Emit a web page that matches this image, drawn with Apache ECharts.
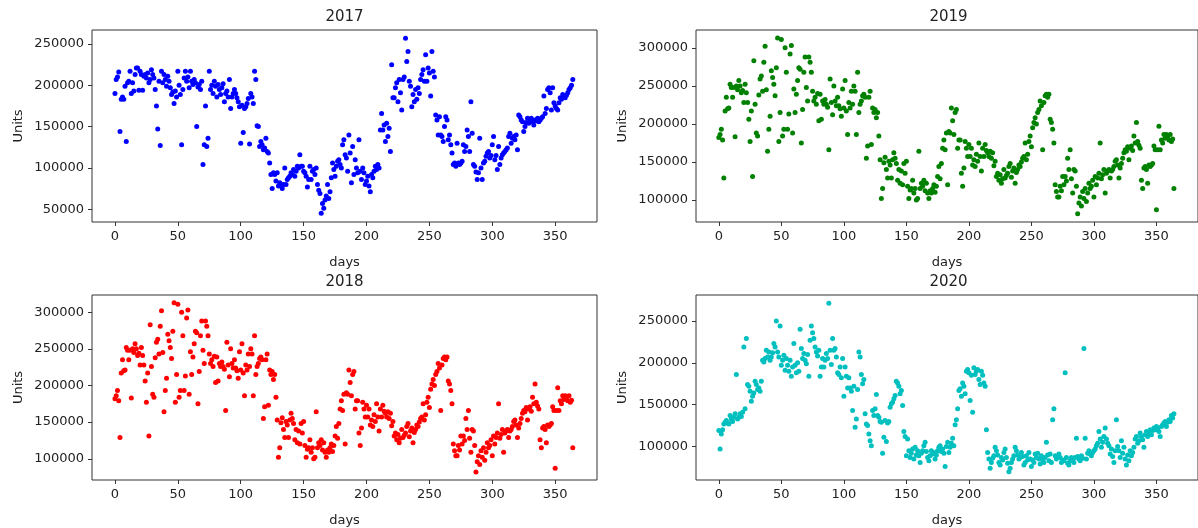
<!DOCTYPE html>
<html>
<head>
<meta charset="utf-8">
<script src="https://cdn.jsdelivr.net/npm/echarts@6/dist/echarts.min.js"></script>
<style>
html,body{margin:0;padding:0;background:#fff;}
#chart{width:1198px;height:528px;}
</style>
</head>
<body>
<div id="chart"></div>
<script>
// Values are in thousands of units, one per day (index = day of year)
const units2017K = [
190,207,210,216,144,183,186,183,199,132,203,205,217,190,203,193,213,221,221,194,
217,213,194,211,213,209,215,203,207,219,213,209,195,175,147,205,127,217,203,213,
207,199,211,205,197,189,192,178,193,186,217,200,189,128,195,209,217,205,210,197,
217,205,201,207,203,150,198,201,195,205,104,128,175,126,136,217,195,200,190,205,
199,186,201,195,189,197,202,180,190,193,186,207,172,186,190,195,190,185,180,174,
130,176,143,172,174,178,184,129,190,186,178,217,207,151,150,126,132,128,122,124,
136,120,118,106,92,75,94,92,84,94,78,82,80,75,80,100,80,86,88,90,
94,92,98,90,96,102,100,116,102,102,96,94,90,77,86,102,86,96,98,92,
100,80,73,69,45,57,51,61,66,80,63,71,88,106,98,90,102,108,110,104,
100,128,134,116,112,96,140,118,82,126,92,110,100,94,134,96,86,100,94,80,
84,90,78,71,92,88,96,102,98,104,100,146,166,146,152,132,154,138,148,120,
225,185,185,197,203,180,207,191,170,207,210,257,229,241,205,199,174,189,180,195,
183,197,190,207,213,219,205,237,205,221,215,187,241,217,210,164,158,140,162,140,
138,132,150,162,158,134,140,128,118,104,106,102,130,106,104,106,108,128,120,126,
146,138,120,180,142,104,102,95,86,94,136,100,86,106,108,114,118,120,112,115,
128,138,110,115,98,126,104,112,116,118,120,122,124,138,142,130,136,138,134,140,
122,164,162,158,156,144,150,155,160,154,158,160,156,152,158,157,160,156,158,160,
162,187,166,172,195,197,191,170,197,179,175,172,170,179,185,183,189,187,185,188,
191,195,197,200,207
];

const units2018K = [
182,186,193,179,129,217,235,220,221,252,248,235,248,183,250,245,257,250,241,244,
228,252,241,228,206,177,217,131,283,226,188,184,238,259,263,243,281,302,245,164,
193,210,270,261,252,237,274,313,177,215,311,184,193,300,268,193,213,292,303,188,
246,215,239,257,274,272,175,219,268,288,248,230,288,281,268,243,230,235,226,240,
204,239,206,230,226,232,226,222,166,259,228,212,250,230,224,235,224,220,210,246,
221,257,217,186,228,221,243,226,250,243,186,268,215,226,230,237,239,235,155,171,
235,243,173,221,215,219,208,215,184,153,102,115,149,156,140,129,151,146,129,153,
162,155,148,126,140,122,138,120,148,135,151,118,102,113,115,126,109,115,100,102,
164,115,122,118,126,112,122,109,102,112,109,115,120,110,118,131,144,128,148,168,
179,166,188,120,190,188,221,204,186,215,219,168,179,179,135,118,142,177,168,157,
173,157,168,146,153,144,160,151,175,157,138,168,157,173,165,162,157,164,155,162,
145,151,131,135,126,133,122,128,140,129,132,135,144,148,130,138,142,122,136,140,
146,144,150,155,157,175,153,160,177,184,170,195,202,208,200,215,219,230,224,166,
228,237,239,235,239,206,202,193,175,120,111,104,104,118,112,131,120,131,125,155,
140,166,128,109,140,138,118,82,96,104,92,111,102,115,98,109,122,115,118,126,
104,131,120,129,135,175,128,133,140,109,135,138,140,129,138,140,144,151,153,146,
129,142,148,155,162,166,164,170,153,168,171,165,184,175,202,177,172,168,126,115,
142,144,140,122,146,144,146,148,171,166,87,166,197,166,179,175,186,181,186,183,
179,186,177,180,115
];

// 2019 shows the same daily pattern as 2018
const units2019K = units2018K.slice();

const units2020K = [
119,97,115,120,127,129,131,128,127,137,133,130,135,139,186,133,135,139,136,141,
219,145,229,174,172,166,154,160,164,178,174,168,170,166,178,203,201,205,215,207,
213,203,207,212,223,219,250,213,207,244,197,203,209,191,205,197,190,203,184,195,
223,197,188,200,190,240,217,205,211,203,199,210,184,227,244,236,229,219,213,208,
215,184,195,205,195,203,211,205,271,215,198,229,215,217,207,188,186,195,182,205,
160,195,184,170,182,170,166,143,172,123,133,168,213,207,186,175,180,139,127,125,
115,107,101,143,137,145,162,137,135,130,129,92,111,131,106,128,130,147,151,153,
157,161,178,176,172,163,167,149,118,112,89,109,95,87,92,97,85,99,90,95,
89,81,92,95,101,105,94,87,83,89,95,91,93,85,90,95,99,101,94,97,
92,76,100,105,93,99,104,110,101,126,132,145,167,169,160,176,172,163,190,192,
188,155,185,141,194,186,190,192,180,174,190,185,176,172,120,93,85,74,81,86,
89,99,95,90,81,78,87,84,93,97,87,80,70,74,81,85,89,99,95,90,
85,87,93,88,78,81,89,84,93,85,76,84,81,91,87,92,85,79,89,84,
81,87,105,90,83,91,81,132,145,89,85,88,91,87,81,84,83,188,87,80,
78,83,87,84,81,87,110,88,85,83,89,86,217,110,85,92,95,91,89,93,
95,97,101,104,118,109,99,105,112,122,109,104,101,91,97,88,81,95,132,100,
95,87,107,92,99,85,78,90,83,95,89,93,99,109,112,104,107,116,112,108,
99,114,118,112,116,120,114,119,122,120,124,121,118,112,124,126,128,130,124,129,
132,130,137,134,139
];

const yearTitles = ['2017', '2019', '2018', '2020'];
const yearValuesK = [units2017K, units2019K, units2018K, units2020K];
const yearColors = ['#0000ff', '#008000', '#ff0000', '#00bfbf'];
const dayTicks = [0, 50, 100, 150, 200, 250, 300, 350];
const unitTicks = [
  [50000, 100000, 150000, 200000, 250000],
  [100000, 150000, 200000, 250000, 300000],
  [100000, 150000, 200000, 250000, 300000],
  [100000, 150000, 200000, 250000]
];
const unitRanges = [[34500, 267000], [71000, 323500], [71000, 323500], [60000, 281000]];

const FONT = 'DejaVu Sans';
const TXT = '#222';
const grids = [
  {left: 92, top: 30, width: 505, height: 192},
  {left: 696, top: 30, width: 505, height: 192},
  {left: 92, top: 295, width: 505, height: 190},
  {left: 696, top: 295, width: 505, height: 190}
];

const option = {
  animation: false,
  backgroundColor: '#fff',
  title: grids.map((g, i) => ({
    text: yearTitles[i],
    left: g.left + g.width / 2,
    top: g.top - 20,
    textAlign: 'center',
    padding: 0,
    textStyle: {fontFamily: FONT, fontSize: 15, fontWeight: 'normal', color: TXT}
  })),
  grid: grids.map(g => Object.assign({show: true, borderColor: '#333', borderWidth: 1, backgroundColor: 'transparent'}, g)),
  xAxis: grids.map((g, i) => ({
    type: 'value', gridIndex: i, min: -18.25, max: 383.25,
    name: 'days', nameLocation: 'middle', nameGap: 34,
    nameTextStyle: {fontFamily: FONT, fontSize: 13, color: TXT},
    axisLine: {show: false, onZero: false},
    axisTick: {show: true, length: 4, customValues: dayTicks, lineStyle: {color: '#333'}},
    axisLabel: {customValues: dayTicks, margin: 8, fontFamily: FONT, fontSize: 13, color: TXT,
      formatter: v => String(v)},
    splitLine: {show: false}
  })),
  yAxis: grids.map((g, i) => ({
    type: 'value', gridIndex: i, min: unitRanges[i][0], max: unitRanges[i][1],
    name: 'Units', nameLocation: 'middle', nameGap: 67,
    nameTextStyle: {fontFamily: FONT, fontSize: 13, color: TXT},
    axisLine: {show: false, onZero: false},
    axisTick: {show: true, length: 4, customValues: unitTicks[i], lineStyle: {color: '#333'}},
    axisLabel: {customValues: unitTicks[i], margin: 8, fontFamily: FONT, fontSize: 13, color: TXT,
      formatter: v => String(Math.round(v))},
    splitLine: {show: false}
  })),
  series: yearValuesK.map((vals, i) => ({
    type: 'scatter', xAxisIndex: i, yAxisIndex: i,
    symbol: 'circle', symbolSize: 5,
    itemStyle: {color: yearColors[i], opacity: 1},
    data: vals.map((v, d) => [d, v * 1000]),
    silent: true
  }))
};

const chart = echarts.init(document.getElementById('chart'), null, {renderer: 'canvas'});
chart.setOption(option);
</script>
</body>
</html>
